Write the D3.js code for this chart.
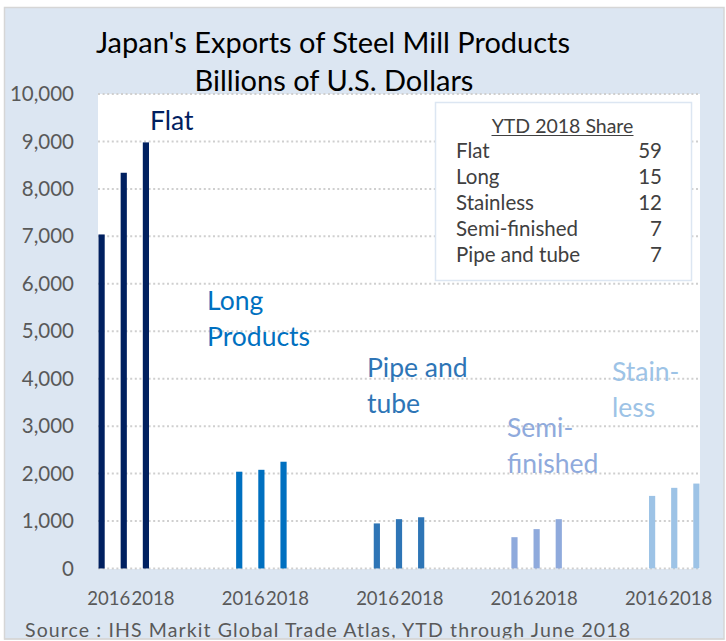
<!DOCTYPE html>
<html><head><meta charset="utf-8">
<script src="https://cdn.jsdelivr.net/npm/d3@7"></script>
<style>body{margin:0;background:#fff}svg{display:block}text{font-family:Lato,"Noto Sans",sans-serif}</style>
</head><body><svg id="c" width="726" height="641"></svg>
<script>
const products = ["Flat","Long","Pipe","Semi","Stain"];
const years = ["2016","2017","2018"];
const flatValues  = [7040, 8340, 8980];
const longValues  = [2040, 2080, 2250];
const pipeValues  = [950, 1040, 1080];
const semiValues  = [660, 830, 1040];
const stainValues = [1530, 1700, 1790];
const yTicks = [0,1000,2000,3000,4000,5000,6000,7000,8000,9000,10000];
const xTickLabels = ["2016","2018"];
const productLabels = [["Flat"],["Long","Products"],["Pipe and","tube"],["Semi-","finished"],["Stain-","less"]];
const shareNames = ["Flat","Long","Stainless","Semi-finished","Pipe and tube"];
const shareValues = [59,15,12,7,7];
const titleLines = ["Japan's Exports of Steel Mill Products","Billions of U.S. Dollars"];
const sourceText = "Source : IHS Markit Global Trade Atlas, YTD through June 2018";

const seriesValues = [flatValues, longValues, pipeValues, semiValues, stainValues];
const colors = ["#002060","#0070c0","#2e75b6","#8faadc","#9dc3e6"];
const labelPos = [[150,130],[207,310],[367,377],[507,437],[612,381]];

const svg = d3.select("#c");
// outer frame
svg.append("rect").attr("x",4.5).attr("y",7.5).attr("width",719.5).attr("height",631.5)
  .attr("fill","#dce6f2").attr("stroke","#d6d6d6").attr("stroke-width",1.5);

const x0 = d3.scaleBand().domain(products).range([98.5,699.5]).paddingInner(0.633).paddingOuter(0);
const x1 = d3.scaleBand().domain(years).range([0,x0.bandwidth()]).paddingInner(0.72).paddingOuter(0);
const xLab = d3.scalePoint().domain(products).range([108.7,646.5]);
const y = d3.scaleLinear().domain([0,10000]).range([568.5,94]);

// plot area
svg.append("rect").attr("x",98).attr("y",94).attr("width",602).attr("height",475).attr("fill","#fff");

// grid
svg.append("g").selectAll("line").data(yTicks).join("line")
  .attr("x1",98).attr("x2",700).attr("y1",d=>y(d)).attr("y2",d=>y(d))
  .attr("stroke","#cfcfcf").attr("stroke-width",2).attr("stroke-dasharray","2,2.6");

// y axis labels
const yAxis = d3.axisLeft(y).tickValues(yTicks).tickFormat(d3.format(",")).tickSize(0).tickPadding(0);
const ga = svg.append("g").attr("transform","translate(74,0)").call(yAxis);
ga.select(".domain").remove();
ga.selectAll("text").attr("font-size",20.5).attr("fill","#595959").style("font-family","Lato");

// bars
products.forEach((p,i)=>{
  const g = svg.append("g").attr("transform",`translate(${x0(p)},0)`);
  g.selectAll("rect").data(seriesValues[i]).join("rect")
    .attr("x",(d,j)=>x1(years[j])).attr("width",x1.bandwidth())
    .attr("y",d=>y(d)).attr("height",d=>y(0)-y(d)).attr("fill",colors[i]);
  svg.append("g").selectAll("text").data(xTickLabels).join("text")
    .attr("x",(d,k)=>xLab(p)+k*44.3).attr("y",605)
    .attr("text-anchor","middle").attr("font-size",18.5).attr("fill","#595959").text(d=>d);
  const t = svg.append("text").attr("x",labelPos[i][0]).attr("y",labelPos[i][1])
    .attr("font-size",26.5).attr("fill",colors[i]);
  productLabels[i].forEach((l,k)=>t.append("tspan").attr("x",labelPos[i][0]).attr("dy",k?35.5:0).text(l));
});

// share table
svg.append("rect").attr("x",435.5).attr("y",102.5).attr("width",256).attr("height",178)
  .attr("fill","#fff").attr("stroke","#dce6f2").attr("stroke-width",1.5);
svg.append("text").attr("x",562.5).attr("y",133).attr("text-anchor","middle").attr("font-size",19.5)
  .attr("fill","#404040").text("YTD 2018 Share");
svg.append("line").attr("x1",491.5).attr("x2",633.5).attr("y1",135.5).attr("y2",135.5).attr("stroke","#404040").attr("stroke-width",1.2);
shareNames.forEach((n,i)=>{
  svg.append("text").attr("x",456).attr("y",158+i*25.9).attr("font-size",20.5).attr("fill","#404040").text(n);
  svg.append("text").attr("x",662).attr("y",158+i*25.9).attr("text-anchor","end").attr("font-size",20.5).attr("fill","#404040").text(shareValues[i]);
});

// title
function fit(sel, w){ const L = sel.node().getComputedTextLength(); if (Math.abs(L-w)/w>0.02) sel.attr("textLength",w).attr("lengthAdjust","spacingAndGlyphs"); }
const t1 = svg.append("text").attr("x",333).attr("y",53).attr("text-anchor","middle").attr("font-size",29).attr("fill","#000").text(titleLines[0]);
fit(t1,481);
const t2 = svg.append("text").attr("x",334).attr("y",91).attr("text-anchor","middle").attr("font-size",29).attr("fill","#000").text(titleLines[1]);
fit(t2,282);
// source
const s = svg.append("text").attr("x",25).attr("y",637).attr("font-size",19.5).attr("fill","#595959").text(sourceText);
s.attr("textLength",605).attr("lengthAdjust","spacing");
svg.append("rect").attr("x",0).attr("y",639.8).attr("width",726).attr("height",2).attr("fill","#fff");
svg.append("line").attr("x1",4).attr("x2",724.5).attr("y1",639).attr("y2",639).attr("stroke","#d6d6d6").attr("stroke-width",1.5);
</script></body></html>
